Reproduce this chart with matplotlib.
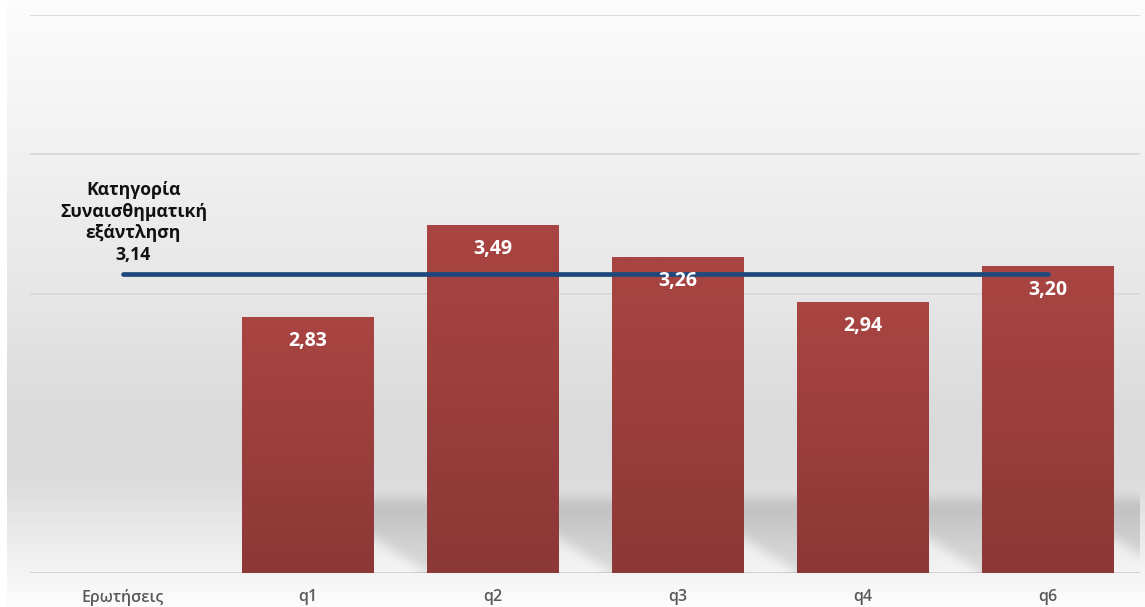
import numpy as np
import matplotlib
matplotlib.use("Agg")
import matplotlib.pyplot as plt
from matplotlib.colors import to_rgb

# ---- data ----
categories = ["Ερωτήσεις", "q1", "q2", "q3", "q4", "q6"]
question_scores = [None, 2.83, 3.49, 3.26, 2.94, 3.20]
category_mean = 3.14
category_name = "Κατηγορία\nΣυναισθηματική\nεξάντληση"

FONT = ["Open Sans", "DejaVu Sans"]
plt.rcParams["font.family"] = FONT

W, H = 1145, 607
fig = plt.figure(figsize=(W / 100, H / 100), dpi=100)

# ---- soft grey panel background ----
bg = fig.add_axes([0, 0, 1, 1], zorder=0)
rows = np.arange(H)
stops_y = [0, 150, 290, 420, 480, 540, 600, 607]
stops_v = [0.99, 0.945, 0.905, 0.855, 0.86, 0.925, 0.985, 0.99]
col = np.interp(rows, stops_y, stops_v)
img = np.repeat(col[:, None], W, axis=1)
img[:, :7] = 1.0
bg.imshow(np.dstack([img] * 3), extent=[0, W, H, 0], aspect="auto")
bg.set_xlim(0, W)
bg.set_ylim(H, 0)
bg.axis("off")

# ---- main axes ----
plot_h = 558.5
ax = fig.add_axes([30 / W, 34 / H, 1110 / W, plot_h / H], zorder=1)
ax.set_facecolor("none")
ax.set_xlim(-0.5, 5.5)
ax.set_ylim(1, 5)
for s in ax.spines.values():
    s.set_visible(False)

x = np.arange(len(categories))
bar_w = 0.71

for gy in (3, 4, 5):
    ax.axhline(gy, color="#d9d9d9", lw=1.3, zorder=1)
ax.axhline(1, color="#d4d4d4", lw=1.5, zorder=1)

# ---- floor shadow behind bars ----
px_per_x = 1110 / 6
px_per_y = plot_h / 4
nx, ny = 1110, 120
gx = np.linspace(-0.5, 5.5, nx)
gyv = np.linspace(1, 1 + ny / px_per_y, ny)
XX, YY = np.meshgrid(gx, gyv)
hpx = (YY - 1) * px_per_y
shear = 1.5 * px_per_y / px_per_x          # x-units per y-unit
shadow_h = 74                              # px
mask = np.zeros_like(XX)
for xi, v in zip(x, question_scores):
    if v is None:
        continue
    left = xi + 1 - bar_w / 2 - shear * (YY - 1)
    right = xi + 1 + bar_w / 2 - shear * (YY - 1)
    inside = (XX >= left) & (XX <= right) & (hpx <= shadow_h)
    mask = np.maximum(mask, inside.astype(float))


def box_blur(a, k, axis):
    ker = np.ones(k) / k
    pad = k // 2
    return np.apply_along_axis(
        lambda m: np.convolve(np.pad(m, pad, mode="edge"), ker, mode="valid")[: len(m)],
        axis, a)


for _ in range(3):
    mask = box_blur(mask, 11, 0)
    mask = box_blur(mask, 7, 1)
alpha = mask * np.interp(hpx, [0, shadow_h], [0.10, 0.15])
shadow = np.zeros((ny, nx, 4))
shadow[..., 3] = alpha
ax.imshow(shadow, extent=[-0.5, 5.5, 1, 1 + ny / px_per_y], origin="lower",
          aspect="auto", zorder=2, interpolation="bilinear")

# ---- bars with vertical shading ----
top_c = np.array(to_rgb("#a94543"))
bot_c = np.array(to_rgb("#8c3836"))
grad = np.linspace(0, 1, 256)[:, None]
grad_img = bot_c[None, None, :] * (1 - grad[..., None]) + top_c[None, None, :] * grad[..., None]
bar_x = [xi for xi, v in zip(x, question_scores) if v is not None]
bar_v = [v for v in question_scores if v is not None]
bars = ax.bar(bar_x, [v - 1 for v in bar_v], bottom=1, width=bar_w,
              color="#9c3f3d", zorder=3)
for b in bars:
    x0, y0 = b.get_x(), b.get_y()
    im = ax.imshow(grad_img, extent=[x0, x0 + b.get_width(), y0, y0 + b.get_height()],
                   origin="lower", aspect="auto", zorder=3.1)
    im.set_clip_path(b)
ax.set_xlim(-0.5, 5.5)
ax.set_ylim(1, 5)

# value labels inside bars
for xi, v in zip(bar_x, bar_v):
    ax.annotate(f"{v:.2f}".replace(".", ","), (xi, v), xytext=(0, -24),
                textcoords="offset pixels",
                ha="center", va="center", color="white", fontsize=14,
                fontweight="bold", zorder=6)

# ---- category average line ----
ax.plot([x[0], x[-1]], [category_mean, category_mean], color="#1f497d", lw=3.4,
        solid_capstyle="round", zorder=5)
ax.annotate(f"{category_name}\n{category_mean:.2f}".replace(".", ","),
            (x[0], category_mean), xytext=(11, 10), textcoords="offset pixels",
            ha="center", va="bottom", fontsize=12.7, fontweight="bold",
            color="#111111", linespacing=1.27, zorder=6)

# ---- axis labels ----
ax.set_xticks(x)
ax.set_xticklabels(categories, fontsize=11.5, fontweight="semibold", color="#595959")
ax.tick_params(axis="x", length=0, pad=11.5)
ax.set_yticks([])

fig.savefig("out.png", dpi=100)
